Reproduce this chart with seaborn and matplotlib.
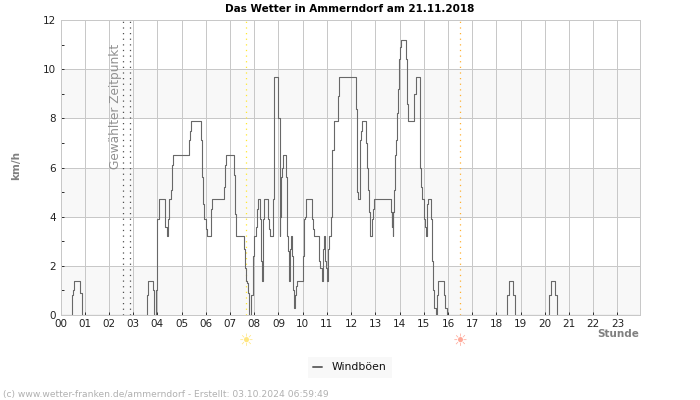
import matplotlib
matplotlib.use("Agg")
import matplotlib.pyplot as plt
import seaborn as sns
from matplotlib.transforms import blended_transform_factory

# (hour, km/h) readings, step-wise
gusts_night = [(0, 0), (0.47, 0.8), (0.52, 1.0), (0.55, 1.4), (0.81, 0.9), (0.88, 0), (3.57, 0.8), (3.63, 1.4),
               (3.8, 1.0), (3.87, 0), (3.93, 1.0), (3.97, 2.2), (4.0, 3.9), (4.06, 4.7), (4.31, 3.9),
               (4.33, 3.6), (4.38, 3.2), (4.42, 3.9), (4.47, 4.7), (4.55, 5.1), (4.6, 6.1), (4.66, 6.5)]
gusts_morning = [(5.3, 7.1), (5.33, 7.5), (5.37, 7.6), (5.4, 7.9), (5.81, 7.1), (5.83, 5.6), (5.88, 4.5), (5.93, 3.9),
                 (6.0, 3.5), (6.05, 3.2), (6.2, 3.6), (6.23, 4.3), (6.27, 4.7), (6.75, 5.2), (6.8, 6.1), (6.85, 6.5),
                 (7.16, 5.7), (7.2, 4.1), (7.25, 3.2), (7.59, 2.7), (7.63, 1.9), (7.66, 1.4), (7.7, 1.3), (7.75, 0.9),
                 (7.8, 0), (7.87, 0.8), (7.93, 2.4), (7.97, 3.2), (8.08, 3.6), (8.11, 4.3), (8.15, 4.7), (8.25, 3.9),
                 (8.27, 2.2), (8.31, 1.4), (8.35, 3.9), (8.41, 4.7), (8.58, 3.9), (8.6, 3.5), (8.65, 3.2), (8.76, 4.7),
                 (8.8, 8.0), (8.83, 9.7), (9.0, 8.0), (9.05, 3.2), (9.08, 4.0), (9.1, 5.6), (9.13, 6.0), (9.17, 6.5),
                 (9.33, 5.6), (9.35, 3.2), (9.38, 2.6), (9.42, 1.4), (9.46, 2.7), (9.5, 3.2), (9.57, 2.4), (9.62, 1.0),
                 (9.65, 0.3), (9.67, 0.8), (9.71, 1.2), (9.75, 1.4)]
gusts_midday = [(10.03, 2.4), (10.05, 3.9), (10.08, 4.0), (10.13, 4.7), (10.37, 3.9), (10.42, 3.5), (10.45, 3.2),
                (10.69, 2.2), (10.73, 1.9), (10.78, 1.4), (10.82, 2.7), (10.87, 3.2), (10.94, 2.2), (10.97, 1.9),
                (11.0, 1.4), (11.03, 2.7), (11.07, 3.2), (11.18, 4.0), (11.2, 5.5), (11.23, 6.7), (11.3, 7.9),
                (11.45, 8.5), (11.47, 8.9), (11.5, 9.2), (11.52, 9.7), (12.2, 8.4), (12.23, 5.6), (12.25, 5.0),
                (12.28, 4.7), (12.35, 5.6), (12.38, 7.1), (12.4, 7.5), (12.43, 7.9), (12.6, 7.0), (12.65, 6.0),
                (12.68, 5.1), (12.73, 4.2), (12.77, 3.7), (12.8, 3.2), (12.85, 3.9), (12.9, 4.3), (12.95, 4.7)]
gusts_afternoon = [(13.65, 4.2), (13.68, 3.6), (13.7, 4.2), (13.72, 3.2), (13.74, 4.2), (13.77, 5.1), (13.81, 6.5),
                   (13.86, 7.1), (13.89, 8.2), (13.92, 9.2), (13.96, 10.4), (14.0, 10.9), (14.08, 11.2), (14.25, 10.4),
                   (14.29, 8.6), (14.33, 7.9), (14.58, 8.4), (14.61, 9.0), (14.66, 9.7), (14.83, 8.9), (14.86, 6.0),
                   (14.88, 5.2), (14.92, 4.7), (15.02, 3.9), (15.06, 3.6), (15.09, 3.2), (15.13, 4.5), (15.17, 4.7),
                   (15.32, 3.9), (15.36, 2.2), (15.39, 1.0), (15.44, 0.3), (15.49, 0), (15.53, 0.8), (15.57, 1.4),
                   (15.82, 0.8), (15.88, 0.3), (15.96, 0)]
gusts_evening = [(18.42, 0.8), (18.5, 1.4), (18.67, 0.8), (18.75, 0), (20.17, 0.8), (20.25, 1.4), (20.41, 0.8),
                 (20.5, 0), (23.9, 0)]
readings = gusts_night + gusts_morning + gusts_midday + gusts_afternoon + gusts_evening
hours = [r[0] for r in readings]
kmh = [r[1] for r in readings]

x_labels = [f"{h:02d}" for h in range(24)]
y_labels = [0, 2, 4, 6, 8, 10, 12]
y_minor = [1, 3, 5, 7, 9, 11]
bands = [(0, 2), (4, 6), (8, 10)]
selected_time = [2.6, 2.85]
sunrise = 7.67
sunset = 16.5
PX = 0.72

sns.set_theme(style="white", rc={"font.family": ["DejaVu Sans"]})
fig = plt.figure(figsize=(7, 4), dpi=100)
ax = fig.add_axes([60.5 / 700, 1 - 315 / 400, (640 - 60.5) / 700, 295 / 400])
for lo, hi in bands:
    ax.axhspan(lo, hi, color="#f8f8f8", lw=0, zorder=0)
ax.grid(True, color="#c8c8c8", lw=PX, zorder=1)
ax.set_axisbelow(True)

sns.lineplot(x=hours, y=kmh, ax=ax, drawstyle="steps-post", estimator=None, sort=False,
             color="#686868", lw=0.8, label="Windböen", zorder=3)

for t in selected_time:
    ax.axvline(t, color="#505050", lw=0.9, ls=(0, (1, 3.5)), zorder=2)
ax.axvline(sunrise, color="#ffe830", lw=0.9, ls=(0, (1, 3.5)), zorder=2)
ax.axvline(sunset, color="#ffb030", lw=0.9, ls=(0, (1, 3.5)), zorder=2)

ax.set_xlim(0, 23.93)
ax.set_ylim(0, 12)
ax.set_xticks(range(24), x_labels)
ax.set_yticks(y_labels)
ax.set_yticks(y_minor, minor=True)
ax.tick_params(axis="both", which="major", direction="in", length=2.5, width=PX, color="#333333",
               labelsize=7.5, labelcolor="#222222", pad=3, bottom=True, left=True)
ax.tick_params(axis="y", which="minor", direction="in", length=2.5, width=PX, color="#333333", left=True)
for s in ax.spines.values():
    s.set_color("#c8c8c8")
    s.set_linewidth(PX)
    s.set_zorder(4)
ax.set_xlabel("")
ax.set_ylabel("")

fig.text(349.5 / 700, 1 - 9 / 400, "Das Wetter in Ammerndorf am 21.11.2018", ha="center", va="center",
         fontsize=7.5, fontweight="bold", color="black")
fig.text(16 / 700, 1 - 166 / 400, "km/h", rotation=90, ha="center", va="center", fontsize=7.5,
         fontweight="bold", color="#808080")
fig.text(639 / 700, 1 - 334 / 400, "Stunde", ha="right", va="center", fontsize=7.5, fontweight="bold",
         color="#808080")
fig.text(116 / 700, 1 - 106 / 400, "Gewählter Zeitpunkt", rotation=90, ha="center", va="center",
         fontsize=8.7, color="#909090")

tr = blended_transform_factory(ax.transData, fig.transFigure)
ax.text(sunrise, 1 - 341 / 400, "☀", transform=tr, ha="center", va="center", fontsize=12,
        color="#ffe680", clip_on=False)
ax.text(sunset, 1 - 341 / 400, "☀", transform=tr, ha="center", va="center", fontsize=12,
        color="#ffa898", clip_on=False)

leg = ax.legend(loc="center", bbox_to_anchor=(350 / 700, 1 - 367.5 / 400), bbox_transform=fig.transFigure,
                frameon=True, fancybox=False, fontsize=7.8, handlelength=0.85, handletextpad=0.9,
                borderpad=0.5, labelcolor="#111111")
leg.get_frame().set(facecolor="#f8f8f8", edgecolor="none", alpha=1)
leg.get_lines()[0].set_linewidth(1.4)

fig.text(3 / 700, 1 - 394 / 400, "(c) www.wetter-franken.de/ammerndorf - Erstellt: 03.10.2024 06:59:49",
         ha="left", va="center", fontsize=6.6, color="#b0b0b0")

fig.savefig("out.png", dpi=100, facecolor="white")
